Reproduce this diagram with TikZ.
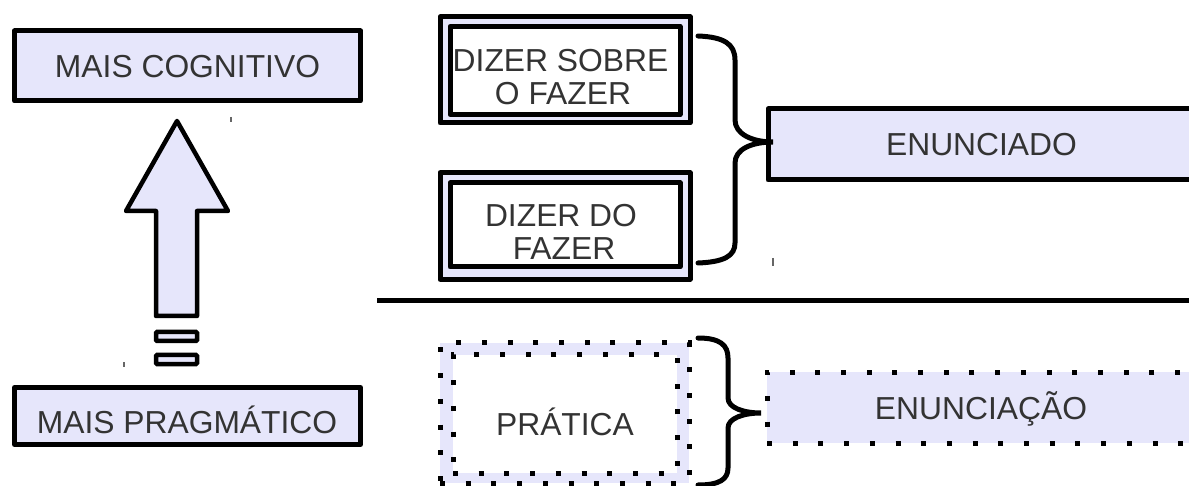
\documentclass[tikz,border=0pt]{standalone}
\usepackage{fontspec}
\setmainfont{Liberation Sans}
\definecolor{lav}{RGB}{230,230,251}
\definecolor{txtc}{RGB}{51,51,51}
\begin{document}
\begin{tikzpicture}[x=1pt,y=-1pt,
  box/.style={rectangle, draw=black, line width=5pt, fill=lav, inner sep=0pt, line join=round},
  wbox/.style={box, fill=white},
  dotbox/.style={rectangle, draw=black, line width=5pt, fill=lav, inner sep=0pt, dash pattern=on 5pt off 20.7pt},
  wdotbox/.style={dotbox, fill=white},
  txt/.style={inner sep=0pt, anchor=base, text=txtc, font=\fontsize{31.8}{33}\selectfont},
  brace/.style={draw=black, line width=5pt, line cap=round},
  tick/.style={draw=black!60, line width=1.6pt}
]
\useasboundingbox (0,0) rectangle (1189,486);

% left column
\node[box, minimum width=346pt, minimum height=70pt] (cog) at (187.5,66) {};
\node[txt] (tcog) at (187.5,78) {MAIS COGNITIVO};
\node[box, minimum width=346pt, minimum height=57pt] (prag) at (187.5,416) {};
\node[txt] (tprag) at (187,433) {MAIS PRAGMÁTICO};

% big arrow
\draw[line width=4.5pt, fill=lav, line join=round]
  (177,121) -- (126,211) -- (156,211) -- (156,316) -- (197,316) -- (197,211) -- (228,211) -- cycle;
\draw[line width=4.5pt, fill=lav, rounded corners=1pt] (156,332) rectangle (197,341);
\draw[line width=4.5pt, fill=lav, rounded corners=1pt] (156,355) rectangle (197,364);

% separator
\coordinate (sepL) at (377,301);
\coordinate (sepR) at (1189,301);
\draw[line width=5pt] (sepL) -- (sepR);

% upper boxes
\node[box, minimum width=250pt, minimum height=106pt] (dsfo) at (565,70) {};
\node[wbox, minimum width=230pt, minimum height=88pt] (dsfi) at (565,70.5) {};
\node[txt] (t1a) at (560.5,72) {DIZER SOBRE};
\node[txt] (t1b) at (563,105) {O FAZER};

\node[box, minimum width=250pt, minimum height=106.5pt] (ddfo) at (565,226) {};
\node[wbox, minimum width=230pt, minimum height=84pt] (ddfi) at (565,225) {};
\node[txt] (t2a) at (561,227) {DIZER DO};
\node[txt] (t2b) at (564,260) {FAZER};

\node[box, minimum width=427pt, minimum height=71pt] (enun) at (981.5,144.5) {};
\node[txt] (tenun) at (981.5,156) {ENUNCIADO};

% lower boxes
\node[dotbox, minimum width=249pt, minimum height=140pt] (prato) at (564.5,413) {};
\node[wdotbox, minimum width=224pt, minimum height=118pt] (prati) at (565,414) {};
\node[txt] (tprat) at (565,435) {PRÁTICA};

\node[dotbox, minimum width=428pt, minimum height=71pt] (enuc) at (981,407.5) {};
\node[txt] (tenuc) at (981,419) {ENUNCIAÇÃO};

% braces
\draw[brace] (698,36) .. controls (724,37) and (735,44) .. (735,60) -- (735,120)
  .. controls (735,134) and (752,142) .. (773,142)
  .. controls (752,142) and (735,149) .. (735,163) -- (735,243)
  .. controls (735,256) and (724,262) .. (698,263);
\draw[brace] (698,338) .. controls (720,338) and (728,345) .. (728,358) -- (728,398)
  .. controls (728,408) and (744,413) .. (761,413)
  .. controls (744,413) and (728,418) .. (728,428) -- (728,468)
  .. controls (728,479) and (720,485) .. (698,485);

% small marks
\draw[tick] (231,117) -- (231,122);
\draw[tick] (124,362) -- (124,367);
\draw[tick] (773,258) -- (773,266);
\end{tikzpicture}
\end{document}
